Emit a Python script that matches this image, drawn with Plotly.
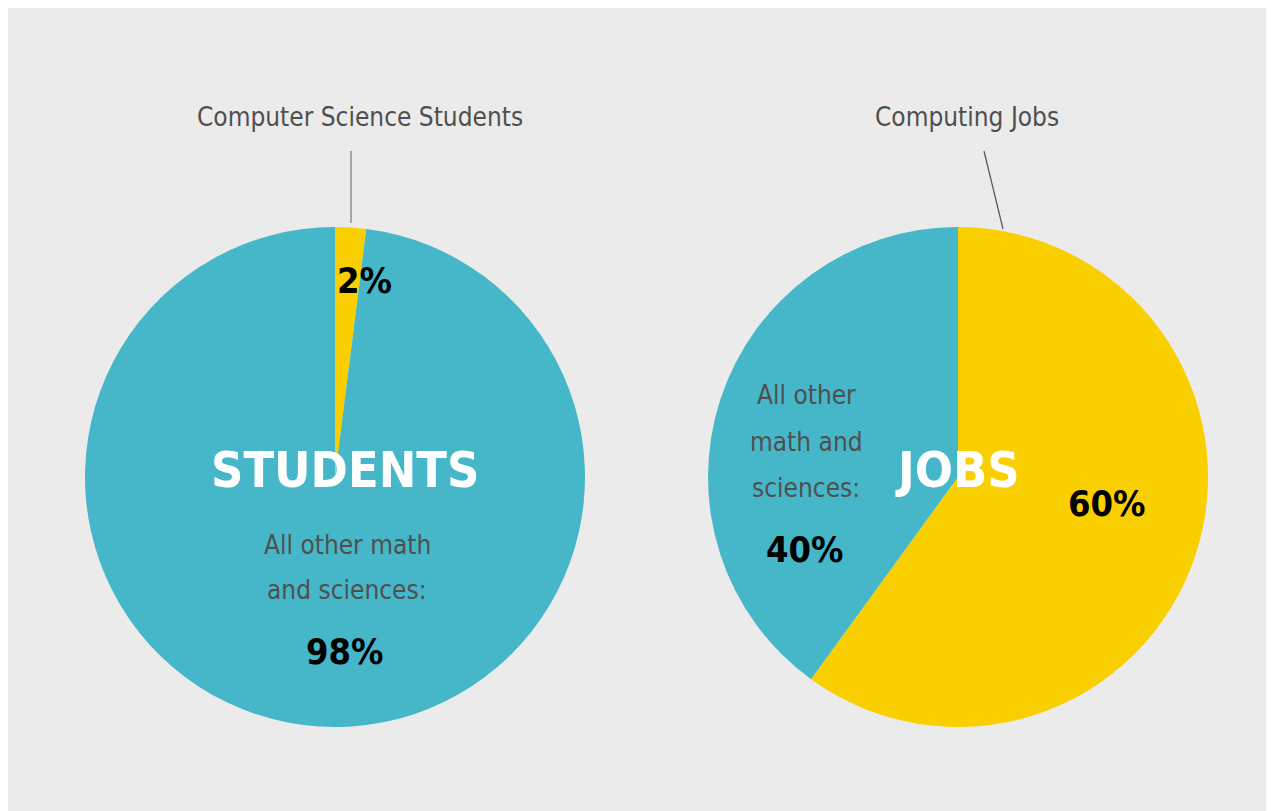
import plotly.graph_objects as go

# The page places the figure 8px in from the top-left corner, so the figure is
# sized to fill the rest of the window and reference pixel positions are shifted.
OFF = 8
W, H = 1274 - OFF, 811 - OFF

# Data
student_labels = ["Computer Science Students", "All other math and sciences"]
student_values = [2, 98]
job_labels = ["Computing Jobs", "All other math and sciences"]
job_values = [60, 40]

YELLOW = "#f9cf00"
TEAL = "#46b7c8"
BG = "#ebebeb"
GRAY_TXT = "#4f4f4f"
FONT = "DejaVu Sans Condensed, Liberation Sans Narrow, Arial Narrow, sans-serif"


def px(x):
    return (x - OFF) / W


def py(y):
    return 1 - (y - OFF) / H


fig = go.Figure()
fig.add_trace(go.Pie(
    labels=student_labels, values=student_values, sort=False, direction="clockwise",
    rotation=0, textinfo="none", hoverinfo="label+percent", showlegend=False,
    marker=dict(colors=[YELLOW, TEAL], line=dict(width=0)),
    domain=dict(x=[px(85), px(585)], y=[py(727), py(227)]),
))
fig.add_trace(go.Pie(
    labels=job_labels, values=job_values, sort=False, direction="clockwise",
    rotation=0, textinfo="none", hoverinfo="label+percent", showlegend=False,
    marker=dict(colors=[YELLOW, TEAL], line=dict(width=0)),
    domain=dict(x=[px(708), px(1208)], y=[py(727), py(227)]),
))


def ann(text, x, y, size, color, bold=False):
    fig.add_annotation(
        text=f"<b>{text}</b>" if bold else text, x=px(x), y=py(y),
        xref="paper", yref="paper", showarrow=False, xanchor="center", yanchor="middle",
        font=dict(family=FONT, size=size, color=color),
    )


ann(student_labels[0], 360, 117, 26, GRAY_TXT)
ann(job_labels[0], 967, 117, 26, GRAY_TXT)
ann("STUDENTS", 345, 470, 50, "white", bold=True)
ann("JOBS", 957, 470, 50, "white", bold=True)
ann(f"{student_values[0]}%", 364, 280, 36, "black", bold=True)
ann("All other math", 347, 545, 26, GRAY_TXT)
ann("and sciences:", 347, 590, 26, GRAY_TXT)
ann(f"{student_values[1]}%", 345, 651, 36, "black", bold=True)
ann("All other", 806, 395, 26, GRAY_TXT)
ann("math and", 806, 442, 26, GRAY_TXT)
ann("sciences:", 806, 488, 26, GRAY_TXT)
ann(f"{job_values[1]}%", 805, 549, 36, "black", bold=True)
ann(f"{job_values[0]}%", 1107, 503, 36, "black", bold=True)

shapes = [
    dict(type="line", xref="paper", yref="paper", x0=px(351), x1=px(351), y0=py(151), y1=py(223),
         line=dict(color="#777777", width=1.2)),
    dict(type="line", xref="paper", yref="paper", x0=px(984), x1=px(1003), y0=py(151), y1=py(229),
         line=dict(color="#555555", width=1.2)),
]

fig.update_layout(
    width=W, height=H, margin=dict(l=0, r=0, t=0, b=0),
    paper_bgcolor=BG, plot_bgcolor=BG, shapes=shapes,
)
fig.write_html("out.html")
